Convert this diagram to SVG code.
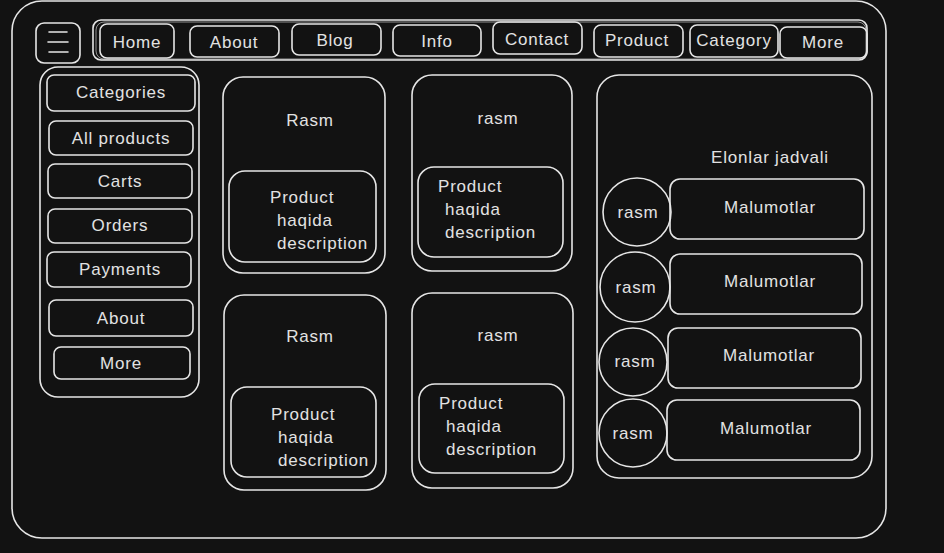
<svg xmlns="http://www.w3.org/2000/svg" width="944" height="553" viewBox="0 0 944 553">
<style>
.s{fill:none;stroke:#e6e6e6;stroke-width:1.6;stroke-linecap:round;stroke-linejoin:round}
.s2{fill:none;stroke:#e6e6e6;stroke-width:1;opacity:0.6}
text{font-family:"Liberation Sans","Open Sans",sans-serif;font-size:17px;letter-spacing:0.8px;fill:#e2e2e2}
.c{text-anchor:middle;dominant-baseline:central}
.l{dominant-baseline:central}
</style>
<rect width="944" height="553" fill="#121212"/>
<g id="frame"><rect class="s" x="12" y="1" width="874" height="537" rx="30"/></g>
<g id="menu-icon">
<rect class="s" x="36" y="23" width="44" height="40" rx="8"/>
<path class="s" d="M49 32 H67 M48 42 H68 M49 52 H68"/>
</g>
<g id="navbar">
<rect class="s" x="93" y="20" width="774" height="40" rx="8"/>
<rect class="s2" x="96" y="22" width="770" height="37" rx="8"/>
</g>
<g id="nav-home"><rect class="s" x="100" y="24" width="74" height="34" rx="7"/><text class="c" x="137" y="42">Home</text></g>
<g id="nav-about"><rect class="s" x="190" y="26" width="89" height="31" rx="7"/><text class="c" x="234" y="42">About</text></g>
<g id="nav-blog"><rect class="s" x="292" y="24" width="89" height="31" rx="7"/><text class="c" x="335" y="40">Blog</text></g>
<g id="nav-info"><rect class="s" x="393" y="25" width="88" height="31" rx="7"/><text class="c" x="437" y="41">Info</text></g>
<g id="nav-contact"><rect class="s" x="493" y="22" width="89" height="32" rx="7"/><text class="c" x="537" y="39">Contact</text></g>
<g id="nav-product"><rect class="s" x="594" y="25" width="89" height="32" rx="7"/><text class="c" x="637" y="40">Product</text></g>
<g id="nav-category"><rect class="s" x="690" y="25" width="88" height="32" rx="7"/><text class="c" x="734" y="40">Category</text></g>
<g id="nav-more"><rect class="s" x="780" y="27" width="87" height="31" rx="7"/><text class="c" x="823" y="42">More</text></g>

<g id="sidebar"><rect class="s" x="40" y="67" width="159" height="330" rx="18"/></g>
<g id="side-categories"><rect class="s" x="47" y="75" width="148" height="36" rx="7"/><text class="c" x="121" y="92">Categories</text></g>
<g id="side-allproducts"><rect class="s" x="49" y="121" width="144" height="34" rx="7"/><text class="c" x="121" y="138">All products</text></g>
<g id="side-carts"><rect class="s" x="48" y="164" width="144" height="34" rx="7"/><text class="c" x="120" y="181">Carts</text></g>
<g id="side-orders"><rect class="s" x="48" y="209" width="144" height="34" rx="7"/><text class="c" x="120" y="225">Orders</text></g>
<g id="side-payments"><rect class="s" x="47" y="252" width="144" height="35" rx="7"/><text class="c" x="120" y="269">Payments</text></g>
<g id="side-about"><rect class="s" x="49" y="300" width="144" height="36" rx="7"/><text class="c" x="121" y="318">About</text></g>
<g id="side-more"><rect class="s" x="54" y="347" width="136" height="32" rx="7"/><text class="c" x="121" y="363">More</text></g>

<g id="card1">
<rect class="s" x="223" y="77" width="162" height="196" rx="20"/>
<text class="c" x="310" y="120">Rasm</text>
<rect class="s" x="229" y="171" width="147" height="91" rx="16"/>
<text class="l" x="270" y="197">Product</text><text class="l" x="277" y="220">haqida</text><text class="l" x="277" y="243">description</text>
</g>
<g id="card2">
<rect class="s" x="412" y="75" width="160" height="196" rx="20"/>
<text class="c" x="498" y="118">rasm</text>
<rect class="s" x="418" y="167" width="145" height="90" rx="16"/>
<text class="l" x="438" y="186">Product</text><text class="l" x="445" y="209">haqida</text><text class="l" x="445" y="232">description</text>
</g>
<g id="card3">
<rect class="s" x="224" y="295" width="162" height="195" rx="20"/>
<text class="c" x="310" y="336">Rasm</text>
<rect class="s" x="231" y="387" width="145" height="90" rx="16"/>
<text class="l" x="271" y="414">Product</text><text class="l" x="278" y="437">haqida</text><text class="l" x="278" y="460">description</text>
</g>
<g id="card4">
<rect class="s" x="412" y="293" width="161" height="195" rx="20"/>
<text class="c" x="498" y="335">rasm</text>
<rect class="s" x="419" y="384" width="145" height="89" rx="16"/>
<text class="l" x="439" y="403">Product</text><text class="l" x="446" y="426">haqida</text><text class="l" x="446" y="449">description</text>
</g>

<g id="ads-panel">
<rect class="s" x="597" y="75" width="275" height="403" rx="22"/>
<text class="c" x="770" y="157">Elonlar jadvali</text>
</g>
<g id="ad1"><circle class="s" cx="637" cy="212" r="34"/><text class="c" x="638" y="212">rasm</text><rect class="s" x="670" y="179" width="194" height="60" rx="10"/><text class="c" x="770" y="207">Malumotlar</text></g>
<g id="ad2"><circle class="s" cx="635" cy="287" r="35"/><text class="c" x="636" y="287">rasm</text><rect class="s" x="670" y="254" width="192" height="60" rx="10"/><text class="c" x="770" y="281">Malumotlar</text></g>
<g id="ad3"><circle class="s" cx="633" cy="362" r="34"/><text class="c" x="635" y="361">rasm</text><rect class="s" x="668" y="328" width="193" height="60" rx="10"/><text class="c" x="769" y="355">Malumotlar</text></g>
<g id="ad4"><circle class="s" cx="633" cy="433" r="34"/><text class="c" x="633" y="433">rasm</text><rect class="s" x="667" y="400" width="193" height="60" rx="10"/><text class="c" x="766" y="428">Malumotlar</text></g>
<g id="connectors"></g>
</svg>
